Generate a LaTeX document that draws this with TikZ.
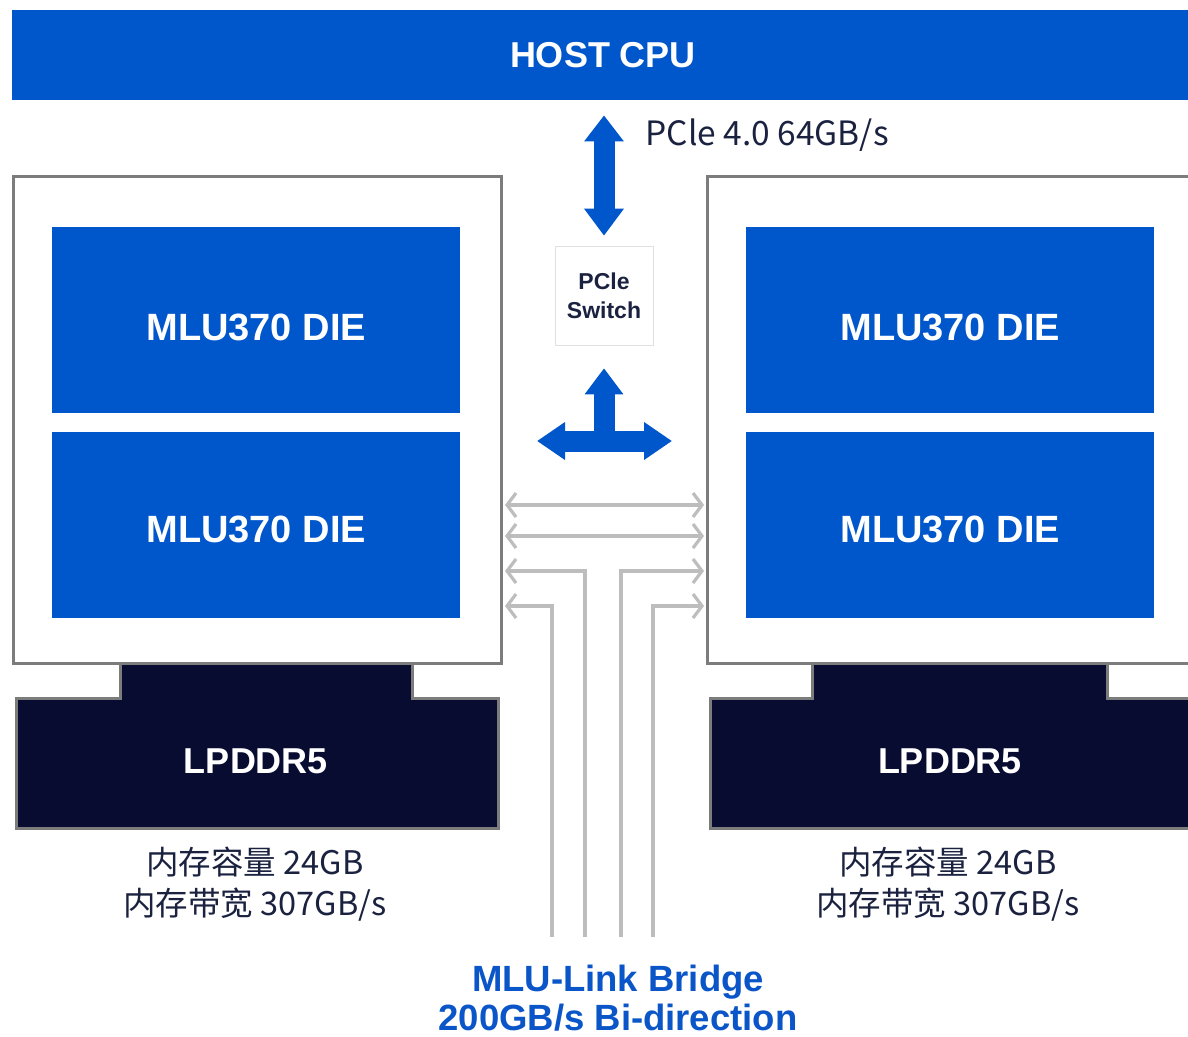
\documentclass[tikz,border=0pt]{standalone}
\usepackage{fontspec}
\setmainfont{Liberation Sans}
\newfontfamily\cjk{Noto Sans CJK SC}
\usetikzlibrary{arrows.meta}
\definecolor{cblue}{HTML}{0057CC}
\definecolor{cnavy}{HTML}{070C30}
\definecolor{cborder}{HTML}{7C7C7C}
\definecolor{clink}{HTML}{BDBDBD}
\definecolor{ctext}{HTML}{1B2240}
\definecolor{cbluetext}{HTML}{0A55C8}
\tikzset{
  bluebox/.style={fill=cblue, draw=none, text=white, font=\bfseries\fontsize{38}{44}\selectfont, inner sep=0pt, text depth=0pt},
  chipbox/.style={draw=cborder, line width=3pt, fill=white, inner sep=0pt},
  memshape/.style={fill=cnavy, draw=cborder, line width=3pt},
  memtext/.style={text=white, font=\bfseries\fontsize{36}{42}\selectfont},
  fat/.style={draw=cblue, line width=21pt},
  link/.style={draw=clink, line width=3.2pt, {Straight Barb[length=9pt,width=24pt,line width=3.2pt]}-{Straight Barb[length=9pt,width=24pt,line width=3.2pt]}},
  linkL/.style={draw=clink, line width=3.2pt, {Straight Barb[length=9pt,width=24pt,line width=3.2pt]}-},
  captxt/.style={text=ctext, font=\cjk\fontsize{32.5}{41}\selectfont, align=center},
}
\begin{document}
\begin{tikzpicture}[x=1pt,y=-1pt]
\useasboundingbox (0,0) rectangle (1188,1036);
\clip (0,0) rectangle (1188,1036);
\fill[white] (0,0) rectangle (1188,1036);

% host
\node[bluebox, anchor=north west, minimum width=1190pt, minimum height=90pt] (host) at (12,10) {};
\node[text=white, font=\bfseries\fontsize{36}{42}\selectfont] (hosttxt) at (603,55) {HOST CPU};

% chip boxes
\node[chipbox, anchor=north west, minimum width=488pt, minimum height=487pt] (L) at (12,175) {};
\node[chipbox, anchor=north west, minimum width=520pt, minimum height=487pt] (R) at (706,175) {};

% dies
\node[bluebox, text height=40pt, anchor=north west, minimum width=408pt, minimum height=186pt] (dl1) at (52,227) {MLU370 DIE};
\node[bluebox, text height=34pt, anchor=north west, minimum width=408pt, minimum height=186pt] (dl2) at (52,432) {MLU370 DIE};
\node[bluebox, text height=40pt, anchor=north west, minimum width=408pt, minimum height=186pt] (dr1) at (746,227) {MLU370 DIE};
\node[bluebox, text height=34pt, anchor=north west, minimum width=408pt, minimum height=186pt] (dr2) at (746,432) {MLU370 DIE};

% memory
\draw[memshape] (120,663) -- (412,663) -- (412,698) -- (498,698) -- (498,828) -- (16,828) -- (16,698) -- (120,698) -- cycle;
\node[memtext] (ml) at (256,761) {LPDDR5};
\draw[memshape] (812,663) -- (1107,663) -- (1107,698) -- (1220,698) -- (1220,828) -- (710,828) -- (710,698) -- (812,698) -- cycle;
\node[memtext] (mr) at (950,761) {LPDDR5};

\node[captxt] (capl) at (255,884) {内存容量 24GB\\内存带宽 307GB/s};
\node[captxt] (capr) at (948,884) {内存容量 24GB\\内存带宽 307GB/s};

% switch
\node[draw=black!12, line width=0.6pt, minimum width=98pt, minimum height=99pt, inner sep=0pt, align=center,
      text=ctext, font=\bfseries\fontsize{23}{29}\selectfont] (sw) at (604,295.5) {PCle\\Switch};

% PCIe arrow
\draw[fat, {Triangle[length=26pt,width=38pt]}-{Triangle[length=27pt,width=38pt]}] ([yshift=-15pt]host.south -| sw.north) -- ([yshift=10pt]sw.north);
\node[anchor=west, text=ctext, font=\cjk\fontsize{33.5}{40}\selectfont] (pcielbl) at (642,135) {PCle 4.0 64GB/s};

% T arrow
\coordinate (tc) at (604,441);
\draw[fat, -{Triangle[length=26pt,width=37pt]}] ([yshift=5pt]tc) -- ([yshift=-23pt]sw.south);
\draw[fat, {Triangle[length=28pt,width=36pt]}-{Triangle[length=28pt,width=36pt]}] (537,441) -- (672,441);

% links
\coordinate (y1) at (0,505);
\coordinate (y2) at (0,536);
\coordinate (y3) at (0,571);
\coordinate (y4) at (0,606);
\coordinate (b1) at (552,937);
\coordinate (b2) at (585,937);
\coordinate (b3) at (621,937);
\coordinate (b4) at (653,937);
\draw[link] ([xshift=2pt]L.east |- y1) -- ([xshift=-2pt]R.west |- y1);
\draw[link] ([xshift=2pt]L.east |- y2) -- ([xshift=-2pt]R.west |- y2);
\draw[linkL] ([xshift=2pt]L.east |- y3) -| (b2);
\draw[linkL] ([xshift=2pt]L.east |- y4) -| (b1);
\draw[linkL] ([xshift=-2pt]R.west |- y3) -| (b3);
\draw[linkL] ([xshift=-2pt]R.west |- y4) -| (b4);

\node[text=cbluetext, font=\bfseries\fontsize{36.5}{39}\selectfont, align=center] (bridge) at (618,998) {MLU-Link Bridge\\200GB/s Bi-direction};
\end{tikzpicture}
\end{document}
